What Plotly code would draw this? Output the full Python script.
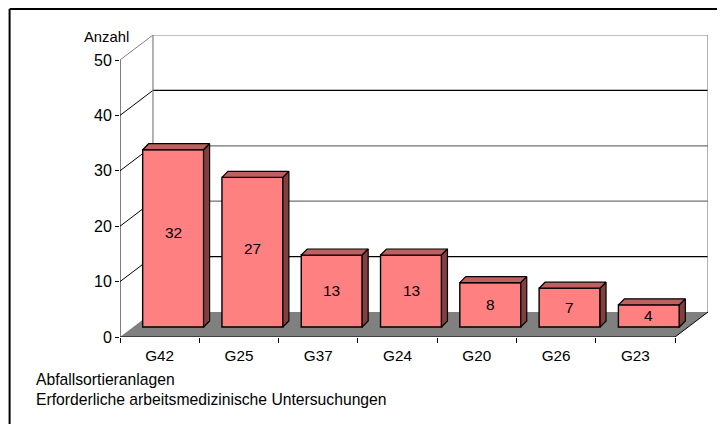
import plotly.graph_objects as go

categories = ["G42", "G25", "G37", "G24", "G20", "G26", "G23"]
values = [32, 27, 13, 13, 8, 7, 4]
y_ticks = [0, 10, 20, 30, 40, 50]
y_title = "Anzahl"
notes = ["Abfallsortieranlagen", "Erforderliche arbeitsmedizinische Untersuchungen"]
label_nudge_px = [6, 4, 0, 0, 0, 0, 0]   # the two tall bars carry their label above centre

W, H = 725, 424
PAGE = 8                   # the page itself shifts the figure by this much
X0, X1 = 119.5 - PAGE, 675.0 - PAGE
Y0, Y50 = 337.0 - PAGE, 60.0 - PAGE
DX_PX, DY_PX = 33.0, 25.0  # depth of the box
n = len(categories)
ux = (X1 - X0) / n
uy = (Y0 - Y50) / 50
ddx, ddy = DX_PX / ux, DY_PX / uy
bar_w = 61 / ux
bar_off = 13.5 / ux
bar_base = 10 / uy
side_x, side_y = 6 / ux, 6 / uy
plot_w = X1 + DX_PX - X0
plot_h = Y0 - Y50 + DY_PX

RED, TOP, SIDE = "#FF8080", "#BF6060", "#804040"
FONT = "Liberation Sans"
GRID = {10: "#000000", 20: "#707070", 30: "#707070", 40: "#000000", 50: "#808080"}
xs = [i + 0.5 + bar_off for i in range(n)]

fig = go.Figure()
fig.add_trace(go.Bar(
    x=xs, y=values, base=[bar_base] * n, width=bar_w,
    marker=dict(color=RED, line=dict(color="#000", width=1.4)),
    cliponaxis=False, showlegend=False, hoverinfo="skip",
))

# top and side faces of each bar
for x, v in zip(xs, values):
    l, r = x - bar_w / 2, x + bar_w / 2
    t, b = bar_base + v, bar_base
    for px, py, col in [
        ([l, r, r + side_x, l + side_x, l], [t, t, t + side_y, t + side_y, t], TOP),
        ([r, r + side_x, r + side_x, r, r], [t, t + side_y, b + side_y, b, t], SIDE),
    ]:
        fig.add_trace(go.Scatter(x=px, y=py, mode="lines", fill="toself", fillcolor=col,
                                 line=dict(color="#000", width=1.2), showlegend=False,
                                 hoverinfo="skip", cliponaxis=False))

# floor, walls and gridlines sit behind the bars
shapes = [dict(type="path", layer="below", xref="x", yref="y",
               path=f"M0,0 L{n},0 L{n + ddx},{ddy} L{ddx},{ddy} Z",
               fillcolor="#808080", line=dict(width=0))]
for v in y_ticks:
    if v > 0:
        shapes.append(dict(type="line", layer="below", xref="x", yref="y",
                           x0=0, x1=ddx, y0=v, y1=v + ddy,
                           line=dict(color="#808080" if v == 50 else "#000", width=1)))
        shapes.append(dict(type="line", layer="below", xref="x", yref="y",
                           x0=ddx, x1=n + ddx, y0=v + ddy, y1=v + ddy, line=dict(color=GRID[v], width=1.2)))
for xv in (ddx, n + ddx):
    shapes.append(dict(type="line", layer="below", xref="x", yref="y",
                       x0=xv, x1=xv, y0=ddy, y1=50 + ddy, line=dict(color="#808080", width=1.2)))
# front axis lines
for x0, x1, y0, y1 in [(0, 0, 0, 50), (0, n, 0, 0), (n, n + ddx, 0, ddy)]:
    shapes.append(dict(type="line", layer="above", xref="x", yref="y",
                       x0=x0, x1=x1, y0=y0, y1=y1, line=dict(color="#000", width=1)))
# chart frame: only its left and top edges fall inside the window
frame_l = (1 - X0) / plot_w
frame_t = 1 + (Y50 - DY_PX - 1) / plot_h
frame_b = (Y0 - H) / plot_h
shapes.append(dict(type="line", xref="paper", yref="paper", x0=frame_l, x1=1 + (W - X1 - DX_PX) / plot_w,
                   y0=frame_t, y1=frame_t, line=dict(color="#000", width=2)))
shapes.append(dict(type="line", xref="paper", yref="paper", x0=frame_l, x1=frame_l,
                   y0=frame_b, y1=frame_t, line=dict(color="#000", width=2)))
fig.update_layout(shapes=shapes)

annotations = [
    dict(text=y_title, xref="x", yref="y", x=0, y=50, xanchor="right", yanchor="middle",
         xshift=11, yshift=23, showarrow=False, font=dict(family=FONT, size=14.8, color="#000")),
]
for x, v, nudge in zip(xs, values, label_nudge_px):
    annotations.append(dict(text=str(v), xref="x", yref="y", x=x, y=bar_base + v / 2, yshift=nudge,
                            showarrow=False, font=dict(family=FONT, size=15.5, color="#000")))
for txt, py in zip(notes, (379 - PAGE, 399 - PAGE)):
    annotations.append(dict(text=txt, xref="paper", yref="paper", x=(33 - PAGE - X0) / plot_w,
                            y=(Y0 - py) / plot_h, xanchor="left", yanchor="middle", showarrow=False,
                            font=dict(family=FONT, size=15.7, color="#000")))
fig.update_layout(
    width=W, height=H, paper_bgcolor="#fff", plot_bgcolor="#fff",
    margin=dict(l=X0, r=W - (X1 + DX_PX), t=Y50 - DY_PX, b=H - Y0, autoexpand=False),
    barmode="overlay", showlegend=False, annotations=annotations,
    xaxis=dict(range=[0, n + ddx], tickmode="array", tickvals=[i + 0.5 for i in range(n)],
               ticktext=categories, ticks="", showgrid=False, zeroline=False, showline=False,
               ticklabelstandoff=8,
               tickfont=dict(family=FONT, size=15.3, color="#000"),
               minor=dict(tickmode="array", tickvals=list(range(n + 1)), ticks="outside", ticklen=5,
                          tickcolor="#000", showgrid=False)),
    yaxis=dict(range=[0, 50 + ddy], tickmode="array", tickvals=y_ticks, ticks="outside", ticklen=4,
               tickcolor="#000", showgrid=False, zeroline=False, showline=False,
               tickfont=dict(family=FONT, size=16, color="#000")),
)
fig.write_html("out.html", default_width=f"{W}px", default_height=f"{H}px")
